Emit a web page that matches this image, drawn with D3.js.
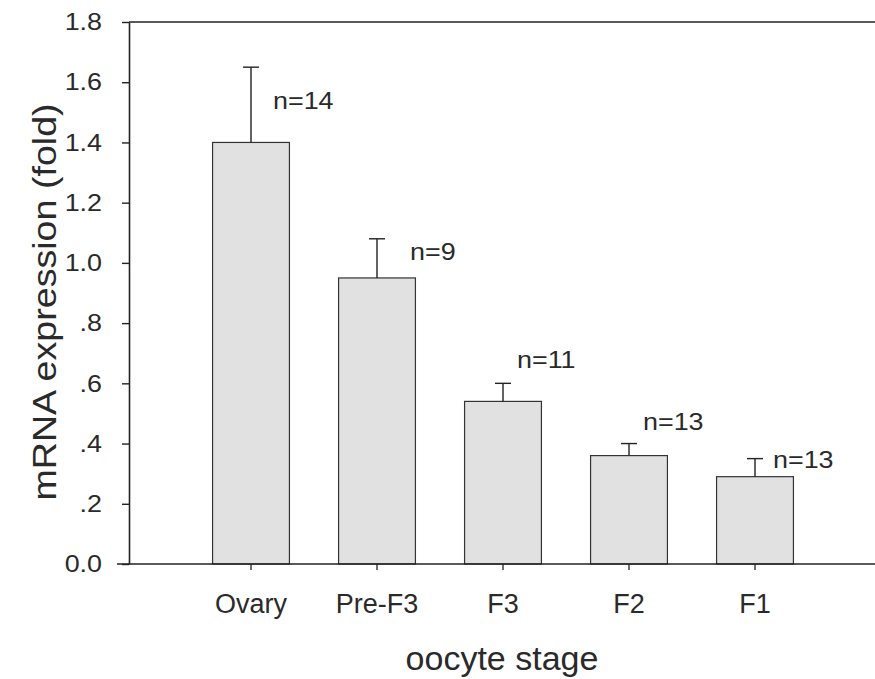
<!DOCTYPE html>
<html>
<head>
<meta charset="utf-8">
<script src="https://cdn.jsdelivr.net/npm/d3@7/dist/d3.min.js"></script>
<style>
  html, body { margin: 0; padding: 0; background: #fff; }
  svg { display: block; }
  text { font-family: "Liberation Sans", Arial, sans-serif; fill: #2a2a2a; }
</style>
</head>
<body>
<svg id="chart" width="875" height="679"></svg>
<script>
// ---- data ----
const categories = ["Ovary", "Pre-F3", "F3", "F2", "F1"];
const means = [1.40, 0.95, 0.54, 0.36, 0.29];
const errTops = [1.65, 1.08, 0.60, 0.40, 0.35];
const nLabels = ["n=14", "n=9", "n=11", "n=13", "n=13"];
const nLabelValues = [1.51, 1.01, 0.65, 0.445, 0.32];
const yTicks = [0, 0.2, 0.4, 0.6, 0.8, 1.0, 1.2, 1.4, 1.6, 1.8];
const yTickLabels = ["0.0", ".2", ".4", ".6", ".8", "1.0", "1.2", "1.4", "1.6", "1.8"];
const xTitle = "oocyte stage";
const yTitle = "mRNA expression (fold)";

// ---- layout ----
const svg = d3.select("#chart");
const axisColor = "#222";
const textColor = "#2a2a2a";
const nLabelDx = [22, 33, 14, 14, 18];

// stretch text horizontally (the original's font is a little wider than Arial)
function stretch(sel, factor) {
  sel.each(function () {
    const w = this.getComputedTextLength();
    d3.select(this).attr("textLength", w * factor).attr("lengthAdjust", "spacingAndGlyphs");
  });
}

const y = d3.scaleLinear().domain([0, 1.8]).range([564, 22]);
const x = d3.scaleBand().domain(categories).range([188, 818])
  .paddingInner(0.39).paddingOuter(0.195);

// y axis
const yAxis = d3.axisLeft(y)
  .tickValues(yTicks)
  .tickFormat((d, i) => yTickLabels[i])
  .tickSize(7)
  .tickSizeOuter(0)
  .tickPadding(20);
const gy = svg.append("g").attr("transform", "translate(129,0)").call(yAxis);
gy.select(".domain").attr("stroke", axisColor).attr("stroke-width", 1.6);
gy.selectAll(".tick line").attr("stroke", axisColor).attr("stroke-width", 1.4);
gy.selectAll(".tick text")
  .style("font-size", "24px")
  .attr("fill", textColor)
  .call(stretch, 1.12);

// top line
svg.append("line")
  .attr("x1", 129).attr("x2", 875)
  .attr("y1", y(1.8)).attr("y2", y(1.8))
  .attr("stroke", axisColor).attr("stroke-width", 1.4);

// bars
svg.append("g").selectAll("rect")
  .data(categories)
  .join("rect")
  .attr("x", d => x(d))
  .attr("y", (d, i) => y(means[i]))
  .attr("width", x.bandwidth())
  .attr("height", (d, i) => y(0) - y(means[i]))
  .attr("fill", "#e1e1e1")
  .attr("stroke", "#333")
  .attr("stroke-width", 1.2);

// error bars
const eg = svg.append("g").attr("stroke", "#222").attr("stroke-width", 1.4);
categories.forEach((c, i) => {
  const cx = x(c) + x.bandwidth() / 2;
  eg.append("line").attr("x1", cx).attr("x2", cx)
    .attr("y1", y(means[i])).attr("y2", y(errTops[i]));
  eg.append("line").attr("x1", cx - 8).attr("x2", cx + 8)
    .attr("y1", y(errTops[i])).attr("y2", y(errTops[i]));
});

// n labels
svg.append("g").selectAll("text")
  .data(categories)
  .join("text")
  .attr("x", (d, i) => x(d) + x.bandwidth() / 2 + nLabelDx[i])
  .attr("y", (d, i) => y(nLabelValues[i]))
  .style("font-size", "24px")
  .text((d, i) => nLabels[i])
  .call(stretch, 1.12);

// x axis
const xAxis = d3.axisBottom(x).tickSize(6).tickSizeOuter(0).tickPadding(24);
const gx = svg.append("g").attr("transform", "translate(0,564)").call(xAxis);
gx.select(".domain").remove();
gx.selectAll(".tick line").attr("stroke", axisColor).attr("stroke-width", 1.3);
gx.selectAll(".tick text").style("font-size", "27px").attr("fill", textColor);

// baseline
svg.append("line")
  .attr("x1", 117).attr("x2", 875)
  .attr("y1", y(0)).attr("y2", y(0))
  .attr("stroke", axisColor).attr("stroke-width", 1.6);

// titles
svg.append("text")
  .attr("x", 502).attr("y", 670)
  .attr("text-anchor", "middle")
  .style("font-size", "34px")
  .text(xTitle);

svg.append("text")
  .attr("transform", "translate(56,302) rotate(-90)")
  .attr("text-anchor", "middle")
  .style("font-size", "33px")
  .text(yTitle)
  .call(stretch, 1.14);
</script>
</body>
</html>
